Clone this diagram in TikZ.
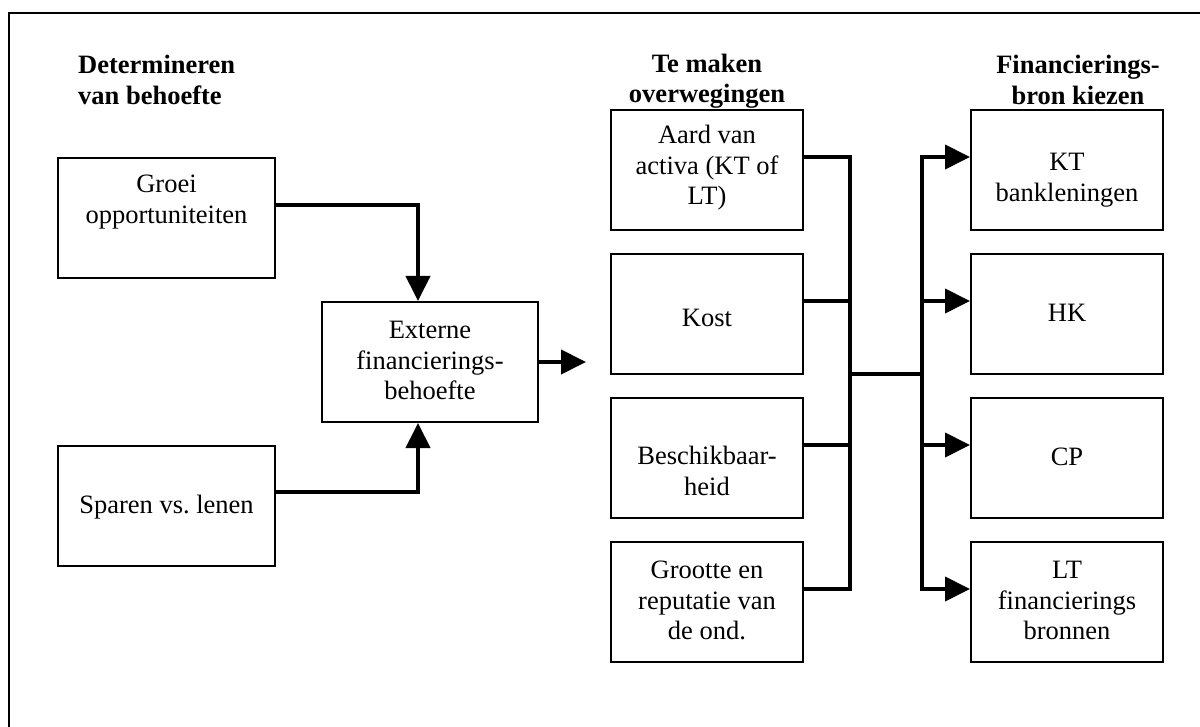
\documentclass[tikz,border=0pt]{standalone}
\usepackage{fontspec}
\setmainfont{Liberation Serif}
\usetikzlibrary{arrows.meta}
\newcommand\tx[2]{\raisebox{#1}[\height][\depth]{\begin{tabular}{@{}c@{}}#2\end{tabular}}}
\frenchspacing
\begin{document}
\begin{tikzpicture}[x=1pt,y=-1pt,
  box/.style={draw, line width=2pt, minimum width=#1, minimum height=120pt, inner sep=0pt, align=center, font=\fontsize{26.5}{30.5}\selectfont},
  box/.default=192pt,
  hdr/.style={font=\fontsize{26.5}{30.5}\selectfont\bfseries, inner sep=0pt},
  conn/.style={line width=4pt},
  arr/.style={conn, -{Triangle[length=25pt,width=24pt]}}]
\useasboundingbox (0,0) rectangle (1200,727);
\clip (0,0) rectangle (1200,727);
\fill[white] (0,0) rectangle (1200,727);
\draw[line width=1.5pt] (9,13) rectangle (1215,745);

% headers
\node[hdr, anchor=west, align=left] (h1) at (78,80) {Determineren\\van behoefte};
\node[hdr, align=center] (h2) at (707,81) {Te maken\\overwegingen};
\node[hdr, align=center] (h3) at (1078,80) {Financierings-\\bron kiezen};

% left column
\node[box=217pt] (groei) at (166.5,218) {\tx{16pt}{Groei\\opportuniteiten}};
\node[box=217pt] (sparen) at (166.5,506) {\tx{-1pt}{Sparen vs. lenen}};
\node[box=216pt] (ext) at (430,362) {\tx{-1pt}{Externe\\financierings-\\behoefte}};

% middle column
\node[box] (aard) at (707,170) {\tx{2pt}{Aard van\\activa (KT of\\LT)}};
\node[box] (kost) at (707,314) {\tx{-6pt}{Kost}};
\node[box] (besch) at (707,458) {\tx{-16pt}{Beschikbaar-\\heid}};
\node[box] (groot) at (707,602) {\tx{-1pt}{Grootte en\\reputatie van\\de ond.}};

% right column
\node[box] (kt) at (1067,170) {\tx{-10pt}{KT\\bankleningen}};
\node[box] (hk) at (1067,314) {\tx{-1pt}{HK}};
\node[box] (cp) at (1067,458) {\tx{-1pt}{CP}};
\node[box] (lt) at (1067,602) {\tx{-1pt}{LT\\financierings\\bronnen}};

% connectors
\coordinate (busL) at (850,0);
\coordinate (busR) at (922,0);
\coordinate (junc) at (850,374);
\coordinate (hub) at (922,374);
\coordinate (extend) at (586,362);

\draw[arr] ([yshift=-48pt]groei.north east) -| ([xshift=-12pt]ext.north);
\draw[arr] ([yshift=-47pt]sparen.north east) -| ([xshift=-12pt]ext.south);
\draw[arr] (ext.east) -- (extend);

\draw[conn] ([yshift=-48pt]aard.north east) -| ([yshift=-48pt]groot.north east -| busL) -- ([yshift=-48pt]groot.north east);
\draw[conn] ([yshift=-48pt]kost.north east) -- ([yshift=-48pt]kost.north east -| busL);
\draw[conn] ([yshift=-48pt]besch.north east) -- ([yshift=-48pt]besch.north east -| busL);
\draw[conn] (junc) -- (hub);

\draw[arr] (hub) |- ([yshift=-48pt]kt.north west);
\draw[arr] (hub) |- ([yshift=-48pt]lt.north west);
\draw[arr] ([yshift=-48pt]hk.north west -| busR) -- ([yshift=-48pt]hk.north west);
\draw[arr] ([yshift=-48pt]cp.north west -| busR) -- ([yshift=-48pt]cp.north west);
\end{tikzpicture}
\end{document}
